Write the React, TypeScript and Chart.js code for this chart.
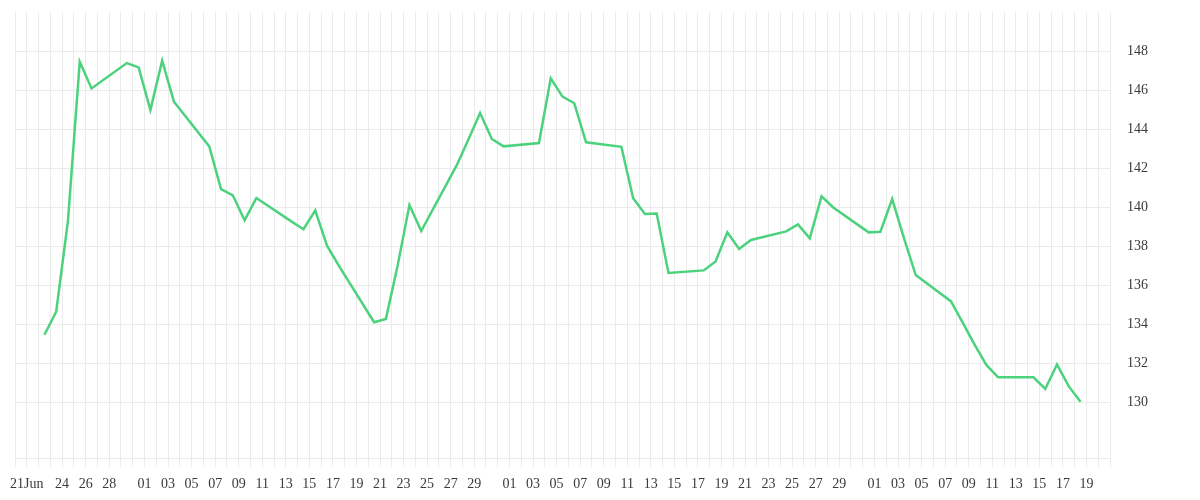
import { useEffect, useRef } from "react"
import { Chart, registerables } from "chart.js"

Chart.register(...registerables)

// Daily closing prices, summer 2020
const dates = [
  "2020-06-22", "2020-06-23", "2020-06-24", "2020-06-25", "2020-06-26",
  "2020-06-29", "2020-06-30", "2020-07-01", "2020-07-02", "2020-07-03",
  "2020-07-06", "2020-07-07", "2020-07-08", "2020-07-09", "2020-07-10",
  "2020-07-13", "2020-07-14", "2020-07-15", "2020-07-16", "2020-07-17",
  "2020-07-20", "2020-07-21", "2020-07-22", "2020-07-23", "2020-07-24",
  "2020-07-27", "2020-07-28", "2020-07-29", "2020-07-30", "2020-07-31",
  "2020-08-03", "2020-08-04", "2020-08-05", "2020-08-06", "2020-08-07",
  "2020-08-10", "2020-08-11", "2020-08-12", "2020-08-13", "2020-08-14",
  "2020-08-17", "2020-08-18", "2020-08-19", "2020-08-20", "2020-08-21",
  "2020-08-24", "2020-08-25", "2020-08-26", "2020-08-27", "2020-08-28",
  "2020-08-31", "2020-09-01", "2020-09-02", "2020-09-03", "2020-09-04",
  "2020-09-07", "2020-09-08", "2020-09-09", "2020-09-10", "2020-09-11",
  "2020-09-14", "2020-09-15", "2020-09-16", "2020-09-17", "2020-09-18",
]

const prices = [
  133.45, 134.63, 139.3, 147.45, 146.08,
  147.38, 147.16, 144.97, 147.5, 145.4,
  143.11, 140.92, 140.6, 139.32, 140.46,
  139.25, 138.86, 139.83, 138.02, 136.99,
  134.09, 134.26, 137.0, 140.1, 138.77,
  142.12, 143.45, 144.82, 143.49, 143.11,
  143.28, 146.6, 145.66, 145.32, 143.32,
  143.09, 140.45, 139.64, 139.67, 136.62,
  136.75, 137.21, 138.7, 137.85, 138.31,
  138.75, 139.11, 138.39, 140.55, 139.98,
  138.7, 138.73, 140.41, 138.4, 136.51,
  135.16, 134.06, 132.94, 131.9, 131.27,
  131.27, 130.67, 131.93, 130.8, 130.02,
]

// x axis runs one grid line per day
const xStart = "2020-06-20"
const xEnd = "2020-09-21"

const xTickDates = [
  "2020-06-21", "2020-06-24", "2020-06-26", "2020-06-28",
  "2020-07-01", "2020-07-03", "2020-07-05", "2020-07-07", "2020-07-09",
  "2020-07-11", "2020-07-13", "2020-07-15", "2020-07-17", "2020-07-19",
  "2020-07-21", "2020-07-23", "2020-07-25", "2020-07-27", "2020-07-29",
  "2020-08-01", "2020-08-03", "2020-08-05", "2020-08-07", "2020-08-09",
  "2020-08-11", "2020-08-13", "2020-08-15", "2020-08-17", "2020-08-19",
  "2020-08-21", "2020-08-23", "2020-08-25", "2020-08-27", "2020-08-29",
  "2020-09-01", "2020-09-03", "2020-09-05", "2020-09-07", "2020-09-09",
  "2020-09-11", "2020-09-13", "2020-09-15", "2020-09-17", "2020-09-19",
]

const yTicks = [130, 132, 134, 136, 138, 140, 142, 144, 146, 148]
const yMin = 127.13
const yMax = 150

const DAY = 86400000
const dayIndex = (d: string) => Math.round((Date.parse(d) - Date.parse(xStart)) / DAY)

function tickText(d: string, i: number) {
  const dt = new Date(d)
  const day = String(dt.getUTCDate()).padStart(2, "0")
  if (i === 0) return day + dt.toLocaleString("en-US", { month: "short", timeZone: "UTC" })
  return day
}

export default function App() {
  const chartRef = useRef<HTMLCanvasElement>(null)
  const chartInstance = useRef<Chart | null>(null)

  useEffect(() => {
    document.body.style.margin = "0"
    if (!chartRef.current) return
    if (chartInstance.current) chartInstance.current.destroy()

    const ctx = chartRef.current.getContext("2d")
    if (!ctx) return

    Chart.defaults.font.family = "'Liberation Serif', serif"
    Chart.defaults.font.size = 14
    Chart.defaults.color = "#3a3a3a"

    const labelMap = new Map<number, string>()
    xTickDates.forEach((d, i) => labelMap.set(dayIndex(d), tickText(d, i)))
    const lastDay = dayIndex(xEnd)
    const gridColor = "#ebebeb"

    chartInstance.current = new Chart(ctx, {
      type: "line",
      data: {
        datasets: [
          {
            // closes are plotted at midday
            data: dates.map((d, i) => ({ x: dayIndex(d) + 0.5, y: prices[i] })),
            borderColor: "#4cd27d",
            borderWidth: 2.5,
            pointRadius: 0,
            tension: 0,
            fill: false,
          },
        ],
      },
      options: {
        animation: false,
        responsive: true,
        maintainAspectRatio: false,
        layout: { padding: { left: 15, top: 12, right: 0, bottom: 0 } },
        plugins: {
          legend: { display: false },
          tooltip: { enabled: false },
        },
        scales: {
          x: {
            type: "linear",
            min: 0,
            max: lastDay,
            afterBuildTicks: (scale) => {
              const ticks = []
              for (let i = 0; i <= lastDay; i++) ticks.push({ value: i })
              scale.ticks = ticks
            },
            afterFit: (scale) => {
              scale.height = 42
              scale.paddingLeft = 0
              scale.paddingRight = 0
            },
            ticks: {
              autoSkip: false,
              maxRotation: 0,
              padding: 9,
              callback: (value) => labelMap.get(Number(value)) ?? "",
            },
            grid: { color: gridColor, tickLength: 9, drawTicks: true },
            border: { color: gridColor },
          },
          y: {
            position: "right",
            min: yMin,
            max: yMax,
            afterBuildTicks: (scale) => {
              scale.ticks = yTicks.map((v) => ({ value: v }))
            },
            afterFit: (scale) => {
              scale.width = 90
              scale.paddingTop = 0
              scale.paddingBottom = 0
            },
            ticks: { padding: 17 },
            grid: { color: gridColor, drawTicks: false },
            border: { color: gridColor },
          },
        },
      },
    })

    return () => {
      if (chartInstance.current) {
        chartInstance.current.destroy()
        chartInstance.current = null
      }
    }
  }, [])

  return (
    <div style={{ width: 1200, height: 500, position: "relative" }}>
      <canvas ref={chartRef} />
    </div>
  )
}
